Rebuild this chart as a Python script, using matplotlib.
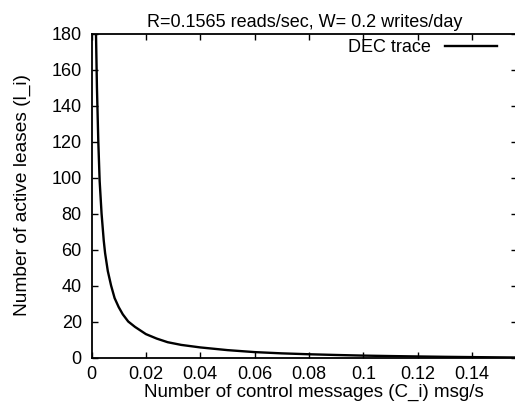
import matplotlib
matplotlib.use("Agg")
import matplotlib.pyplot as plt

# Data
C_values = [0.00165, 0.002, 0.0025, 0.003, 0.0037, 0.0045, 0.005, 0.006, 0.0072,
            0.0085, 0.01, 0.0115, 0.0135, 0.016, 0.02, 0.024, 0.028, 0.033, 0.04,
            0.05, 0.06, 0.07, 0.08, 0.09, 0.1, 0.11, 0.12, 0.13, 0.14, 0.15, 0.1565]
L_values = [180, 150, 120, 98, 80, 65, 58, 48, 40,
            33, 28, 24, 20, 17, 13, 10.5, 8.5, 7, 5.6,
            4.1, 3.0, 2.3, 1.8, 1.4, 1.05, 0.8, 0.58, 0.38, 0.22, 0.08, 0]
x_ticks = [0, 0.02, 0.04, 0.06, 0.08, 0.1, 0.12, 0.14]
x_ticklabels = ["0", "0.02", "0.04", "0.06", "0.08", "0.1", "0.12", "0.14"]
y_ticks = [0, 20, 40, 60, 80, 100, 120, 140, 160, 180]

plt.rcParams['font.family'] = ['Liberation Sans', 'DejaVu Sans']

W, H = 515, 404
fig = plt.figure(figsize=(W / 100, H / 100), dpi=100)
left, right, top, bottom = 91.5, 517.0, 33.5, 357.5
ax = fig.add_axes([left / W, 1 - bottom / H, (right - left) / W, (bottom - top) / H])

ax.plot(C_values, L_values, color='black', linewidth=1.7, label='DEC trace')
ax.set_xlim(0, 0.1565)
ax.set_ylim(0, 180)
ax.set_xticks(x_ticks)
ax.set_xticklabels(x_ticklabels)
ax.set_yticks(y_ticks)
ax.tick_params(direction='in', length=4, width=1.0, top=True, right=True,
               labelsize=13, colors='black')
ax.tick_params(axis='x', pad=6)
ax.tick_params(axis='y', pad=7)
for s in ax.spines.values():
    s.set_linewidth(1.3)

ax.set_title("R=0.1565 reads/sec, W= 0.2 writes/day", fontsize=13, pad=5)
ax.set_xlabel("Number of control messages (C_i) msg/s", fontsize=13.5)
ax.xaxis.set_label_coords((314 - left) / (right - left), -(392 - bottom) / (bottom - top))
ax.xaxis.label.set_va('center')
ax.set_ylabel("Number of active leases (l_i)", fontsize=13.8)
ax.yaxis.set_label_coords(-(left - 22) / (right - left), 0.5)
ax.yaxis.label.set_va('center')

leg = ax.legend(loc='upper right', frameon=False, markerfirst=False, fontsize=13,
                handlelength=2.9, handletextpad=0.75,
                bbox_to_anchor=(497 / W, 1 - 39 / H), bbox_transform=fig.transFigure,
                borderaxespad=0, borderpad=0)

fig.savefig("out.png", dpi=100)
